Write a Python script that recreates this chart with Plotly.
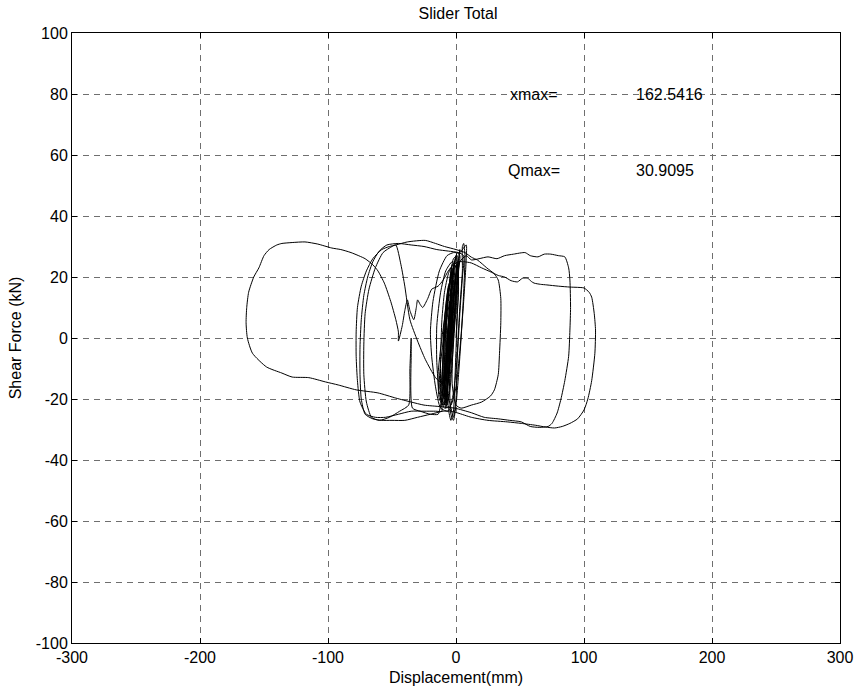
import plotly.graph_objects as go

# ---- data: (displacement mm, shear force kN), in time order ----
core1 = [(0,0),(1,8),(2,16),(1,22),(-1,24),(-3,20),(-5,10),(-6,0),(-7,-10),(-8,-18),(-7,-22),
         (-5,-18),(-3,-8),(-1,4),(1,14),(2,22),(1,27),(-2,26),(-5,18),(-8,6),(-10,-6),(-11,-16),
         (-10,-22),(-8,-21),(-6,-12),(-4,0),(-2,12),(0,21),(0,25),(-3,24),(-6,14),(-9,0),
         (-11,-12),(-12,-20),(-11,-24)]

left1 = [(-16,-24),(-25,-24),(-35,-24),(-45,-25),(-55,-26),(-63,-26),(-70,-25),(-75,-21),
         (-77,-14),(-78,-6),(-78,2),(-77,10),(-74,17),(-70,22),(-65,26),(-58,29),(-52,30),
         (-47,30.5),(-38,31.5),(-24,32),(-16,31),(-9,30),(0,29),(7,28),(12,26.5),(17,25.5),
         (24,23),(30,21),(33,19),(35,13),(35,5),(34,-5),(33,-12),(30,-17),(27,-19),(20,-21),
         (12,-22),(4,-23)]

core2 = [(0,-22),(-3,-15),(-2,0),(0,12),(2,22),(3,27),(1,28),(-2,22),(-5,8),(-7,-6),(-9,-16),
         (-10,-21),(-8,-22),(-6,-14),(-4,-2),(-2,10),(0,20),(1,24),(-1,23),(-4,12),(-7,-2),
         (-9,-14),(-12,-22),(-14,-25)]

left2 = [(-20,-25),(-28,-24),(-34,-23),(-35,-5),(-35,0),(-36,-10),(-37,-22),(-44,-24),
         (-52,-26),(-60,-27),(-66,-26),(-70,-21),(-72,-12),(-72,-2),(-71,8),(-68,16),(-63,23),
         (-57,28),(-50,30),(-47,30.5),(-43,24),(-40,17),(-36,6),(-30,-1),(-24,-7),(-16,-13),
         (-9,-16),(-5,-21),(-2,-26)]

core3 = [(0,-20),(1,-5),(3,10),(5,22),(5,30),(6,31),(7,27),(6,15),(4,0),(2,-12),(0,-22),
         (-2,-27),(-4,-25),(-5,-12),(-3,5),(-1,18),(2,26),(3,29),(2,24),(-1,10),(-4,-5),
         (-7,-17),(-9,-22),(-7,-18),(-4,-6),(-1,8),(1,18),(3,25)]

right1 = [(8,27),(12,25.6),(18,26),(25,26.6),(32,26),(38,27),(45,27.5),(54,28),(58,27),
          (64,26.6),(69,27.5),(74,27.5),(80,27),(85,26.6),(88,23),(89,19),(89.5,10),(89,2.6),
          (88,-6),(85,-14),(82,-20),(79,-24.6),(75,-28),(72,-29),(65,-29.3),(58,-29),
          (51,-27.5),(42,-27),(33,-26.5),(22,-26),(12,-24.5),(-1,-23),(-12,-22.5),(-25,-22),
          (-35,-21),(-47,-19.7),(-61,-18),(-78,-17),(-92,-15.4),(-102,-14.4),(-115,-13),
          (-128,-12.8),(-136,-11.5),(-148,-9.5),(-159,-5),(-163,0),(-164,5),(-163.5,10),
          (-162,15),(-158,20),(-154,23),(-150,27),(-146,29),(-140,30.5),(-136,31),(-128,31.3),
          (-118,31.5),(-108,30.8),(-97,29.5),(-90,29),(-82,28),(-71,26),(-65,24),(-61,22),
          (-56,18),(-51,12),(-47,6),(-45,2),(-45,-1),(-42,4),(-40,9),(-38,12.5),(-36,9),
          (-33,6),(-31,10),(-30,12.5),(-28,11),(-26,10),(-22,13),(-19,16),(-14,17),(-10,19),
          (-6,22),(-2,24),(2,25)]

right2 = [(6,25),(12,24.6),(20,23),(28,21.5),(33,20.5),(38,20),(43,18.8),(48,18.4),(52,19.6),
          (56,19.6),(59,18.5),(61,18),(66,17.6),(71,17.4),(80,17),(89,16.7),(95,16.6),
          (100,16.4),(104,15),(106,13.4),(108,8),(109,2.6),(108.5,-5),(106,-14),(103,-20),
          (100,-23.6),(95,-26.5),(89,-28),(83,-29),(77,-29.5),(70,-29.2),(62,-28.6),(51,-28),
          (40,-27.5),(25,-27),(12,-26),(1.5,-24.6),(-4,-24)]

left3 = [(-10,-24),(-20,-25),(-30,-26),(-40,-27),(-50,-27),(-58,-27),(-65,-26.5),(-71,-25),
         (-74,-20),(-75,-12),(-75,-3),(-74,6),(-72,14),(-69,20),(-65,25),(-60,28.5),(-54,30.5),
         (-45,31),(-35,30.5),(-25,30),(-15,29),(-6,28.5),(2,28),(6,27)]

core_mid = [(5,20),(3,8),(1,-6),(-2,-18),(-6,-24),(-12,-23),(-16,-16),(-19,-6),(-20,2),
            (-18,12),(-13,22),(-7,27),(-2,28),(3,28),(8,30.5),(8,26),(6,12),(3,-4),(0,-16),
            (-4,-22),(-9,-23),(-13,-18),(-15,-8),(-15,4),(-12,15),(-8,22),(-3,25),(1,24)]

core4 = [(2,18),(1,8),(0,-4),(-1,-15),(-2,-24),(-4,-27),(-6,-23),(-7,-12),(-6,2),(-4,14),
         (-2,23),(0,27),(1,25),(0,15),(-2,2),(-4,-10),(-6,-19),(-8,-23),(-9,-19),(-9,-8),
         (-8,4),(-6,15),(-3,22),(-1,24),(-1,18),(-3,6),(-5,-6),(-7,-15),(-9,-20),(-10,-18),
         (-10,-6),(-9,6),(-7,14),(-4,20),(-2,22),(-2,14),(-4,2),(-6,-8),(-8,-16),(-9,-19),
         (-8,-12),(-7,-2),(-5,8),(-3,16),(-2,19),(-3,12),(-5,2),(-6,-8),(-8,-14),(-7,-6),
         (-6,4),(-4,12),(-3,15),(-4,8),(-5,0),(-6,-6),(-5,0),(-4,5)]

core5 = [(-3,10),(-5,-2),(-7,-12),(-9,-18),(-11,-21),(-12,-17),(-12,-6),(-11,6),(-9,15),
         (-6,21),(-4,23),(-3,18),(-5,6),(-7,-6),(-9,-14),(-11,-19),(-10,-10),(-10,0),(-8,10),
         (-6,17),(-4,19),(-5,10),(-7,0),(-8,-8),(-10,-15),(-9,-8),(-8,2),(-6,12),(-4,16),
         (-5,6),(-7,-4),(-9,-12),(-8,-4),(-7,6),(-5,12),(-6,4),(-7,-2),(-6,2)]

core6 = [(-4,8),(-1,18),(1,24),(0,26),(-3,22),(-7,12),(-11,0),(-14,-12),(-13,-20),(-10,-22),
         (-7,-16),(-4,-4),(-2,8),(0,18),(-2,22),(-6,14),(-9,2),(-12,-8),(-13,-16),(-11,-18),
         (-8,-10),(-5,0),(-3,8)]

segments = [core1, left1, core2, left2, core3, right1, right2, left3, core_mid, core4, core5, core6]

x_ticks = [-300, -200, -100, 0, 100, 200, 300]
y_ticks = [-100, -80, -60, -40, -20, 0, 20, 40, 60, 80, 100]

labels = [("xmax=", 41, 80), ("162.5416", 139, 80), ("Qmax=", 39, 55), ("30.9095", 139, 55)]

disp = [p[0] for s in segments for p in s]
force = [p[1] for s in segments for p in s]

FONT = "Liberation Sans, Arial, Helvetica, sans-serif"

fig = go.Figure()
fig.add_trace(go.Scatter(x=disp, y=force, mode="lines",
                         line=dict(color="black", width=1, shape="spline", smoothing=0.6),
                         showlegend=False, hoverinfo="skip"))

for txt, xv, yv in labels:
    fig.add_annotation(x=xv, y=yv, xref="x", yref="y", text=txt, showarrow=False,
                       xanchor="left", yanchor="middle",
                       font=dict(family=FONT, size=16, color="black"))

axis_common = dict(showline=True, linecolor="black", linewidth=1, mirror="ticks",
                   ticks="inside", ticklen=5, tickcolor="black",
                   showgrid=True, gridcolor="#6f6f6f", gridwidth=1, griddash="6px,5px",
                   zeroline=False, tickfont=dict(family=FONT, size=16, color="black"))

fig.update_xaxes(range=[-300, 300], tickvals=x_ticks, ticktext=[str(v) for v in x_ticks],
                 title=dict(text="Displacement(mm)", font=dict(family=FONT, size=16, color="black"),
                            standoff=6),
                 **axis_common)
fig.update_yaxes(range=[-100, 100], tickvals=y_ticks, ticktext=[str(v) for v in y_ticks],
                 title=dict(text="Shear Force (kN)", font=dict(family=FONT, size=16, color="black"),
                            standoff=10),
                 **axis_common)

fig.update_layout(
    width=865, height=696,
    margin=dict(l=72, r=18, t=33, b=53),
    paper_bgcolor="white", plot_bgcolor="white",
    title=dict(text="Slider Total", x=0.5295, xanchor="center", y=0.981, yref="container",
               yanchor="middle", font=dict(family=FONT, size=16, color="black")),
    font=dict(family=FONT, size=16, color="black"),
)

fig.write_html("out.html", config={"displayModeBar": False},
               post_script="document.body.style.margin='0px';document.body.style.padding='0px';")
